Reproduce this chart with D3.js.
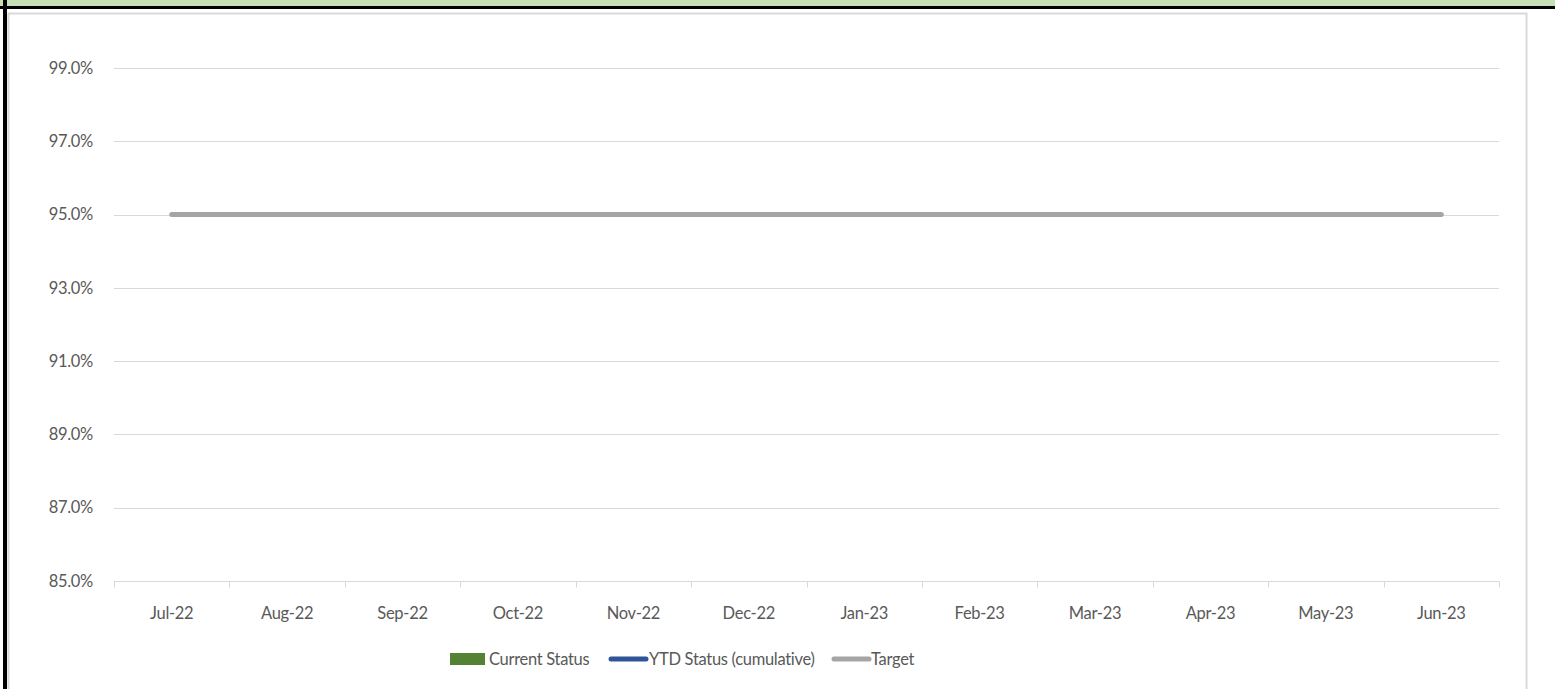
<!DOCTYPE html>
<html lang="en">
  <head>
    <meta charset="utf-8">
    <script src="https://cdn.jsdelivr.net/npm/d3@7"></script>
    <style>
      body { margin: 0; background: #fff; }
      text { font-family: Lato, "Open Sans", sans-serif; fill: #595959; font-size: 16.5px; letter-spacing: -0.3px; }
    </style>
  </head>
  <body>
    <script>
      // chart data
      var months = ["Jul-22", "Aug-22", "Sep-22", "Oct-22", "Nov-22", "Dec-22",
                    "Jan-23", "Feb-23", "Mar-23", "Apr-23", "May-23", "Jun-23"];
      var currentStatus = [null, null, null, null, null, null, null, null, null, null, null, null];
      var ytdStatus = [null, null, null, null, null, null, null, null, null, null, null, null];
      var target = [95, 95, 95, 95, 95, 95, 95, 95, 95, 95, 95, 95];
      var yTicks = [85, 87, 89, 91, 93, 95, 97, 99];
      var legendItems = ["Current Status", "YTD Status (cumulative)", "Target"];

      var w = 1555, h = 689;
      var margin = { top: 68, left: 114, right: 56, bottom: 108 };

      var svg = d3.select("body").append("svg")
        .attr("width", w)
        .attr("height", h);

      // frame: green title strip, black border, grey chart border
      svg.append("rect").attr("x", 0).attr("y", 0).attr("width", w).attr("height", 6).attr("fill", "#c5e0b4");
      svg.append("rect").attr("x", 0).attr("y", 6).attr("width", w).attr("height", 3).attr("fill", "#000");
      svg.append("rect").attr("x", 3).attr("y", 0).attr("width", 4).attr("height", h).attr("fill", "#000");
      svg.append("rect").attr("x", 8.5).attr("y", 13.5).attr("width", 1518).attr("height", h)
        .attr("fill", "none").attr("stroke", "#d9d9d9").attr("stroke-width", 2);

      var x = d3.scaleBand()
        .domain(months)
        .range([margin.left, w - margin.right]);

      var y = d3.scaleLinear()
        .domain([85, 99])
        .range([h - margin.bottom, margin.top]);

      // gridlines
      svg.append("g").selectAll("line")
        .data(yTicks.slice(1))
        .enter().append("line")
        .attr("x1", margin.left).attr("x2", w - margin.right)
        .attr("y1", function(d) { return Math.round(y(d)) + 0.5; })
        .attr("y2", function(d) { return Math.round(y(d)) + 0.5; })
        .attr("stroke", "#d9d9d9").attr("stroke-width", 1);

      // y labels
      svg.append("g").selectAll("text")
        .data(yTicks)
        .enter().append("text")
        .attr("x", 93)
        .attr("y", function(d) { return y(d); })
        .attr("dy", "0.35em")
        .attr("text-anchor", "end")
        .text(function(d) { return d.toFixed(1) + "%"; });

      // x axis line and ticks at band edges
      var axisY = Math.round(y(85)) + 0.5;
      svg.append("line")
        .attr("x1", margin.left).attr("x2", w - margin.right)
        .attr("y1", axisY).attr("y2", axisY)
        .attr("stroke", "#d9d9d9").attr("stroke-width", 1);
      var edges = months.map(function(m) { return x(m); }).concat([x.range()[1]]);
      svg.append("g").selectAll("line")
        .data(edges)
        .enter().append("line")
        .attr("x1", function(d) { return Math.round(d) + 0.5; })
        .attr("x2", function(d) { return Math.round(d) + 0.5; })
        .attr("y1", axisY).attr("y2", axisY + 6)
        .attr("stroke", "#d9d9d9").attr("stroke-width", 1);

      svg.append("g").selectAll("text")
        .data(months)
        .enter().append("text")
        .attr("x", function(d) { return x(d) + x.bandwidth() / 2; })
        .attr("y", 613)
        .attr("dy", "0.35em")
        .attr("text-anchor", "middle")
        .text(function(d) { return d; });

      // current status bars (no values this period)
      svg.append("g").selectAll("rect")
        .data(currentStatus.filter(function(d) { return d != null; }))
        .enter().append("rect");

      var line = d3.line()
        .defined(function(d) { return d != null; })
        .x(function(d, i) { return x(months[i]) + x.bandwidth() / 2; })
        .y(function(d) { return y(d); });

      svg.append("path")
        .datum(ytdStatus)
        .attr("fill", "none").attr("stroke", "#2f5597").attr("stroke-width", 5)
        .attr("d", line);

      svg.append("path")
        .datum(target)
        .attr("fill", "none").attr("stroke", "#a5a5a5").attr("stroke-width", 5)
        .attr("stroke-linecap", "round")
        .attr("d", line);

      // legend
      var lg = svg.append("g").attr("transform", "translate(0,659)");
      lg.append("rect").attr("x", 450).attr("y", -6).attr("width", 35).attr("height", 12).attr("fill", "#548235");
      lg.append("text").attr("x", 489).attr("dy", "0.35em").text(legendItems[0]);
      lg.append("line").attr("x1", 611).attr("x2", 646).attr("y1", 0).attr("y2", 0)
        .attr("stroke", "#2f5597").attr("stroke-width", 5).attr("stroke-linecap", "round");
      lg.append("text").attr("x", 649).attr("dy", "0.35em").text(legendItems[1]);
      lg.append("line").attr("x1", 834).attr("x2", 869).attr("y1", 0).attr("y2", 0)
        .attr("stroke", "#a5a5a5").attr("stroke-width", 5).attr("stroke-linecap", "round");
      lg.append("text").attr("x", 871).attr("dy", "0.35em").text(legendItems[2]);
    </script>
  </body>
</html>
